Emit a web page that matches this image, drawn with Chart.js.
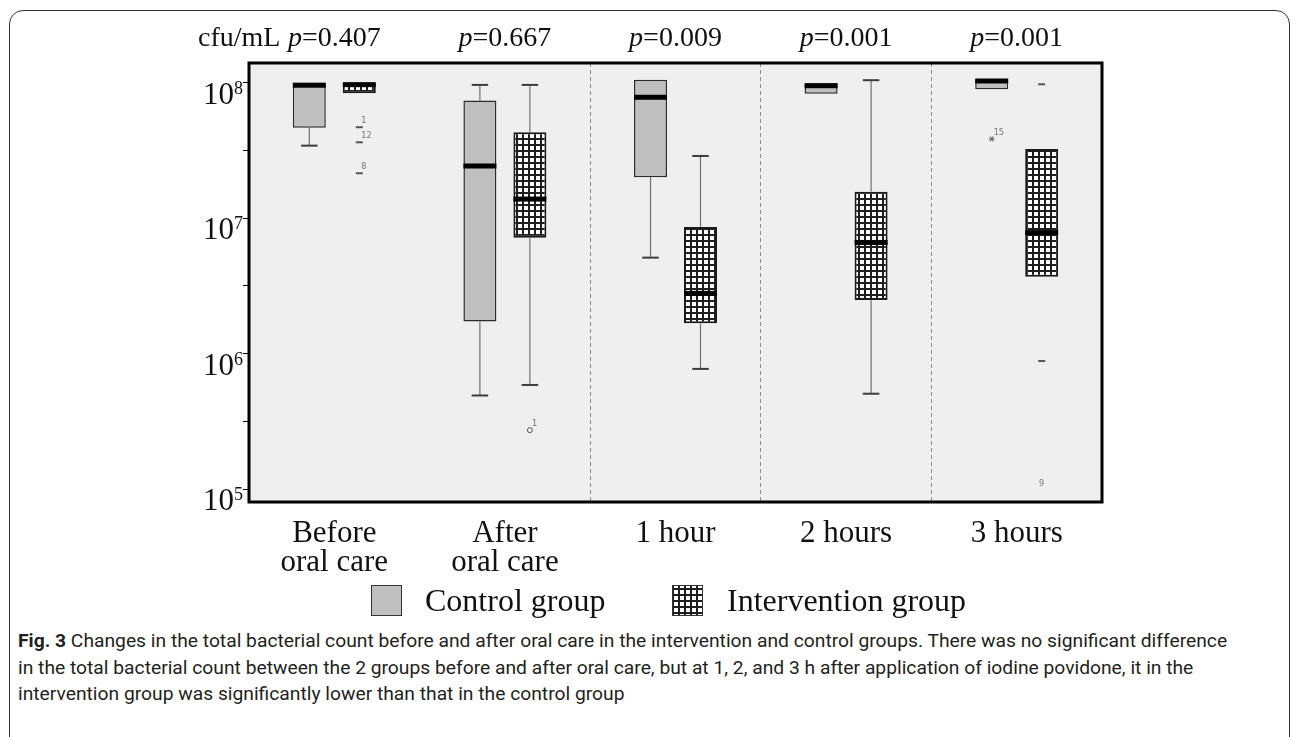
<!DOCTYPE html>
<html>
<head>
<meta charset="utf-8">
<script src="https://cdn.jsdelivr.net/npm/chart.js@4.4.0/dist/chart.umd.min.js"></script>
<style>
  html, body { margin: 0; padding: 0; background: #fff; }
  body { width: 1292px; height: 737px; position: relative; overflow: hidden; }
  #frame { position: absolute; left: 9px; top: 10px; width: 1281px; height: 800px; border: 1.5px solid #333; border-radius: 14px; box-sizing: border-box; }
  #wrap { position: absolute; left: 0; top: 0; width: 1292px; height: 625px; }
  #caption { position: absolute; left: 18px; top: 628px; font-family: Roboto, 'Noto Sans', sans-serif; font-size: 16px; line-height: 26.5px; color: #231f20; white-space: nowrap; }
  #caption div { display: block; }
</style>
</head>
<body>
<div id="frame"></div>
<div id="wrap"><canvas id="chart" width="1292" height="625"></canvas></div>
<div id="caption">
  <div id="cap1"><b>Fig. 3</b> Changes in the total bacterial count before and after oral care in the intervention and control groups. There was no significant difference</div>
  <div>in the total bacterial count between the 2 groups before and after oral care, but at 1, 2, and 3&nbsp;h after application of iodine povidone, it in the</div>
  <div>intervention group was significantly lower than that in the control group</div>
</div>
<script>
// categories and p values
const categories = [['Before', 'oral care'], ['After', 'oral care'], '1 hour', '2 hours', '3 hours'];
const pValues = ['0.407', '0.667', '0.009', '0.001', '0.001'];

// control group (cfu/mL)
const ctrlMin    = [3.42e7, 4.9e5,  5.1e6,  null,   null];
const ctrlQ1     = [4.64e7, 1.72e6, 2.0e7,  8.26e7, 8.9e7];
const ctrlMedian = [9.55e7, 2.42e7, 7.78e7, 9.47e7, 1.026e8];
const ctrlQ3     = [9.97e7, 7.35e7, 1.05e8, 9.87e7, 1.056e8];
const ctrlMax    = [null,   9.6e7,  null,   null,   null];
const ctrlOutliers = [[], [], [], [], [{v: 3.83e7, mark: '*', label: '15'}]];

// intervention group (cfu/mL)
const intvMin    = [null,   5.86e5, 7.7e5,  5.05e5, null];
const intvQ1     = [8.32e7, 7.16e6, 1.67e6, 2.48e6, 3.69e6];
const intvMedian = [9.64e7, 1.38e7, 2.78e6, 6.6e6,  7.8e6];
const intvQ3     = [9.97e7, 4.29e7, 8.6e6,  1.56e7, 3.23e7];
const intvMax    = [null,   9.6e7,  2.87e7, 1.04e8, null];
const intvOutliers = [
  [{v: 4.68e7, mark: '-', label: '1'}, {v: 3.62e7, mark: '-', label: '12'}, {v: 2.14e7, mark: '-', label: '8'}],
  [{v: 2.72e5, mark: 'o', label: '1'}],
  [], [],
  [{v: 9.7e7, mark: '-'}, {v: 8.8e5, mark: '-'}, {v: 1.13e5, mark: '', label: '9'}]
];

// axis ticks
const yLabelTicks = [1e5, 1e6, 1e7, 1e8];
const yMinorTicks = [3.16e5, 3.16e6, 3.16e7];

const serif = "'Liberation Serif', 'Times New Roman', serif";

// grid hatch for the intervention group
function makeHatch() {
  const c = document.createElement('canvas');
  c.width = 6; c.height = 6;
  const g = c.getContext('2d');
  g.fillStyle = '#ffffff';
  g.fillRect(0, 0, 6, 6);
  g.fillStyle = '#1e1e1e';
  g.fillRect(0, 0, 6, 2);
  g.fillRect(0, 0, 2, 6);
  return g.createPattern(c, 'repeat');
}
const hatch = makeHatch();

function strokeLine(ctx, x1, y1, x2, y2) {
  ctx.beginPath();
  ctx.moveTo(x1, y1);
  ctx.lineTo(x2, y2);
  ctx.stroke();
}

const boxPlugin = {
  id: 'boxExtras',
  beforeDraw(chart) {
    const {ctx, chartArea: a} = chart;
    ctx.save();
    ctx.fillStyle = '#efefef';
    ctx.fillRect(a.left, a.top, a.right - a.left, a.bottom - a.top);
    ctx.restore();
  },
  afterDatasetsDraw(chart) {
    const ctx = chart.ctx;
    const y = chart.scales.y;
    const groups = [
      {meta: chart.getDatasetMeta(0), min: ctrlMin, q1: ctrlQ1, med: ctrlMedian, q3: ctrlQ3, max: ctrlMax, out: ctrlOutliers},
      {meta: chart.getDatasetMeta(1), min: intvMin, q1: intvQ1, med: intvMedian, q3: intvQ3, max: intvMax, out: intvOutliers}
    ];
    groups.forEach(g => {
      g.meta.data.forEach((bar, i) => {
        const x = bar.x, hw = bar.width / 2;
        ctx.save();
        // whiskers and caps
        [[g.min[i], g.q1[i]], [g.max[i], g.q3[i]]].forEach(([w, q]) => {
          if (w == null) return;
          const yw = y.getPixelForValue(w), yq = y.getPixelForValue(q);
          ctx.strokeStyle = '#707070';
          ctx.lineWidth = 1.2;
          strokeLine(ctx, x, yw, x, yq);
          ctx.strokeStyle = '#3c3c3c';
          ctx.lineWidth = 2;
          strokeLine(ctx, x - hw / 2, yw, x + hw / 2, yw);
        });
        // median
        const ym = y.getPixelForValue(g.med[i]);
        ctx.fillStyle = '#000';
        ctx.fillRect(x - hw, ym - 2.5, hw * 2, 5);
        // outliers
        g.out[i].forEach(o => {
          const yo = y.getPixelForValue(o.v);
          ctx.strokeStyle = '#555';
          ctx.fillStyle = '#555';
          if (o.mark === '-') {
            ctx.fillRect(x - 3.5, yo - 1, 7, 2);
          } else if (o.mark === 'o') {
            ctx.lineWidth = 1;
            ctx.beginPath();
            ctx.arc(x, yo, 2.5, 0, Math.PI * 2);
            ctx.stroke();
          } else if (o.mark === '*') {
            ctx.lineWidth = 1;
            for (let k = 0; k < 3; k++) {
              const ang = k * Math.PI / 3;
              strokeLine(ctx, x - 3 * Math.cos(ang), yo - 3 * Math.sin(ang), x + 3 * Math.cos(ang), yo + 3 * Math.sin(ang));
            }
          }
          if (o.label) {
            ctx.fillStyle = '#777';
            ctx.font = "9px 'Liberation Sans Narrow', 'DejaVu Sans Condensed', sans-serif";
            ctx.textBaseline = 'alphabetic';
            if (o.mark) {
              ctx.textAlign = 'left';
              ctx.fillText(o.label, x + 2, yo - 4);
            } else {
              ctx.textAlign = 'center';
              ctx.fillText(o.label, x, yo + 4);
            }
          }
        });
        ctx.restore();
      });
    });
  },
  afterDraw(chart) {
    const {ctx, chartArea: a} = chart;
    const y = chart.scales.y, xs = chart.scales.x;
    ctx.save();
    // plot frame
    ctx.strokeStyle = '#000';
    ctx.lineWidth = 3;
    ctx.strokeRect(a.left, a.top, a.right - a.left, a.bottom - a.top);

    // y labels 10^n
    ctx.fillStyle = '#111';
    ctx.textBaseline = 'alphabetic';
    yLabelTicks.forEach(v => {
      const py = y.getPixelForValue(v);
      const exp = String(Math.round(Math.log10(v)));
      ctx.font = '18px ' + serif;
      const ew = ctx.measureText(exp).width;
      ctx.textAlign = 'left';
      ctx.fillText(exp, a.left - 6 - ew, py + 11);
      ctx.font = '31px ' + serif;
      ctx.textAlign = 'right';
      ctx.fillText('10', a.left - 6 - ew, py + 21);
    });

    // unit + p values
    ctx.font = '28px ' + serif;
    ctx.textAlign = 'left';
    ctx.fillText('cfu/mL', 198, 46);
    pValues.forEach((p, i) => {
      const cx = xs.getPixelForValue(i);
      ctx.font = 'italic 28px ' + serif;
      const w1 = ctx.measureText('p').width;
      ctx.font = '28px ' + serif;
      const rest = '=' + p;
      const w2 = ctx.measureText(rest).width;
      const x0 = cx - (w1 + w2) / 2;
      ctx.font = 'italic 28px ' + serif;
      ctx.fillText('p', x0, 46);
      ctx.font = '28px ' + serif;
      ctx.fillText(rest, x0 + w1, 46);
    });

    // legend
    const items = [
      {ds: chart.data.datasets[0], bx: 371, tx: 425},
      {ds: chart.data.datasets[1], bx: 672, tx: 727}
    ];
    items.forEach(it => {
      ctx.fillStyle = it.ds.backgroundColor;
      ctx.fillRect(it.bx, 585, 30, 30);
      ctx.strokeStyle = '#333';
      ctx.lineWidth = 1;
      ctx.strokeRect(it.bx + 0.5, 585.5, 30, 30);
      ctx.fillStyle = '#111';
      ctx.font = '32px ' + serif;
      ctx.textAlign = 'left';
      ctx.fillText(it.ds.label, it.tx, 611);
    });
    ctx.restore();
  }
};

new Chart(document.getElementById('chart'), {
  type: 'bar',
  data: {
    labels: categories,
    datasets: [
      {
        label: 'Control group',
        data: categories.map((_, i) => [ctrlQ1[i], ctrlQ3[i]]),
        backgroundColor: '#bfbfbf',
        borderColor: '#2b2b2b',
        borderWidth: 1.5,
        borderSkipped: false,
        categoryPercentage: 0.586,
        barPercentage: 0.66
      },
      {
        label: 'Intervention group',
        data: categories.map((_, i) => [intvQ1[i], intvQ3[i]]),
        backgroundColor: hatch,
        borderColor: '#1a1a1a',
        borderWidth: 2,
        borderSkipped: false,
        categoryPercentage: 0.586,
        barPercentage: 0.66
      }
    ]
  },
  options: {
    responsive: false,
    animation: false,
    layout: { padding: { top: 63, right: 190, bottom: 0, left: 0 } },
    plugins: { legend: { display: false }, tooltip: { enabled: false } },
    scales: {
      x: {
        type: 'category',
        grid: {
          offset: true,
          drawTicks: false,
          lineWidth: 1,
          color: c => (c.index >= 2 && c.index <= 4) ? '#8c8c8c' : 'rgba(0,0,0,0)'
        },
        border: { display: false, dash: [4, 3] },
        ticks: {
          color: '#111',
          font: { family: serif, size: 31, lineHeight: 0.92 },
          padding: 18,
          maxRotation: 0,
          autoSkip: false
        },
        afterFit: s => { s.height = 123; }
      },
      y: {
        type: 'logarithmic',
        min: 8.02e4,
        max: 1.393e8,
        afterBuildTicks: s => {
          s.ticks = yLabelTicks.concat(yMinorTicks).sort((p, q) => p - q).map(v => ({value: v}));
        },
        grid: { drawOnChartArea: false, drawTicks: true, tickLength: 6, tickColor: '#000', tickWidth: 1 },
        border: { display: false },
        ticks: { display: false },
        afterFit: s => { s.width = 249; }
      }
    }
  },
  plugins: [boxPlugin]
});

// fit caption line width to the figure
const cap = document.getElementById('caption');
const w1 = document.getElementById('cap1').getBoundingClientRect().width;
cap.style.fontSize = (16 * 1210 / w1).toFixed(2) + 'px';
</script>
</body>
</html>
